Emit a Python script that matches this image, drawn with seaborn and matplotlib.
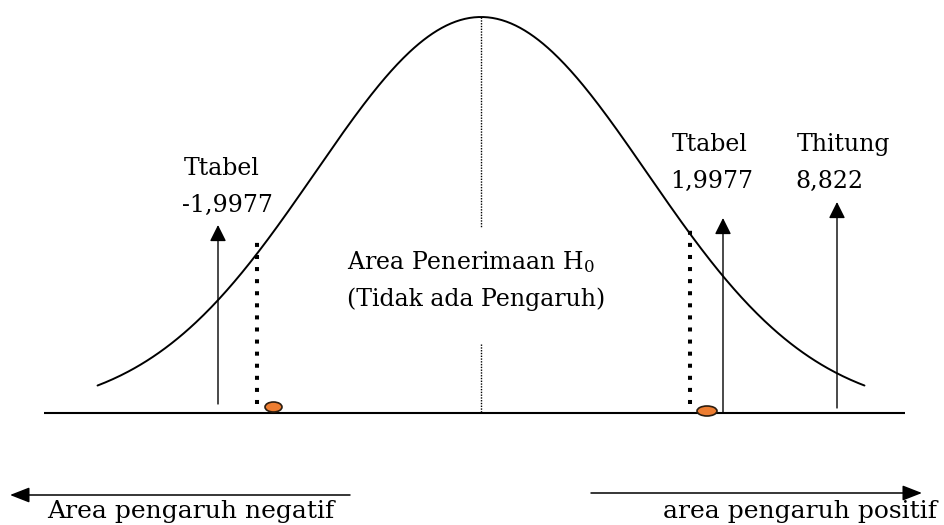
import numpy as np
import matplotlib
matplotlib.use("Agg")
import matplotlib.pyplot as plt
from matplotlib.patches import Ellipse
import seaborn as sns

# ---- data ----
t_labels = ["Ttabel", "Ttabel", "Thitung"]
t_values = ["-1,9977", "1,9977", "8,822"]
center_lines = [r"Area Penerimaan H$_0$", "(Tidak ada Pengaruh)"]
bottom_labels = ["Area pengaruh negatif", "area pengaruh positif"]

# ---- layout (pixel space of a 944x525 canvas) ----
W, H = 944, 525
base_y = 413
peak_y = 17
center_x = 481
sigma_px = 166
curve_half = 2.31  # in sigma units

sns.set_theme(style="white")
plt.rcParams["font.family"] = ["DejaVu Serif"]
plt.rcParams["mathtext.fontset"] = "dejavuserif"

fig = plt.figure(figsize=(W / 100, H / 100), dpi=100)
ax = fig.add_axes([0, 0, 1, 1])
ax.set_xlim(0, W)
ax.set_ylim(H, 0)
ax.axis("off")

# bell curve
z = np.linspace(-curve_half, curve_half, 500)
cx = center_x + sigma_px * z
cy = base_y - (base_y - peak_y) * np.exp(-z ** 2 / 2)
sns.lineplot(x=cx, y=cy, sort=False, color="black", lw=1.4, ax=ax)

# baseline
ax.plot([44, 905], [base_y, base_y], color="black", lw=1.5, solid_capstyle="butt")

# centre fine dotted line
for y0, y1 in [(peak_y, 228), (344, base_y)]:
    ax.plot([center_x, center_x], [y0, y1], color="black", lw=1.0,
            linestyle=(0, (1, 1)))

# thick dotted critical lines
crit = [(257, 238, 404), (690, 223, 404)]
for x, y0, y1 in crit:
    ax.plot([x, x], [y1, y0], color="black", lw=2.9,
            linestyle=(0, (1, 2)), dash_capstyle="butt")

# orange ellipses
for (ex, ey, ew, eh) in [(273.5, 407, 17, 10), (707, 411, 20, 10)]:
    ax.add_patch(Ellipse((ex, ey), ew, eh, facecolor="#ED7D31",
                         edgecolor="#2b1d10", lw=1.2, zorder=5))

# vertical arrows
arrow_style = "-|>,head_length=1.0,head_width=0.5"
for x, y_tail, y_tip in [(218, 404, 225), (723, 412, 218), (837, 408, 202)]:
    ax.annotate("", xy=(x, y_tip), xytext=(x, y_tail),
                arrowprops=dict(arrowstyle=arrow_style, mutation_scale=10,
                                color="black", lw=1.0, shrinkA=0, shrinkB=0))

# bottom horizontal arrows
h_style = "-|>,head_length=1.2,head_width=0.47"
for x_tail, x_tip, y in [(350, 10, 495), (591, 922, 493)]:
    ax.annotate("", xy=(x_tip, y), xytext=(x_tail, y),
                arrowprops=dict(arrowstyle=h_style, mutation_scale=10,
                                color="black", lw=1.1, shrinkA=0, shrinkB=0))

# labels
fs = 17
label_pos = [(184, 175, 182, 212), (672, 151, 670, 188), (797, 151, 795, 188)]
for (lx, ly, vx, vy), lab, val in zip(label_pos, t_labels, t_values):
    ax.text(lx, ly, lab, fontsize=fs, ha="left", va="baseline", color="black")
    ax.text(vx, vy, val, fontsize=fs, ha="left", va="baseline", color="black")

for (tx, ty), s in zip([(347, 269), (347, 306)], center_lines):
    ax.text(tx, ty, s, fontsize=fs, ha="left", va="baseline", color="black")

for (tx, ty), s in zip([(47, 518), (663, 518)], bottom_labels):
    ax.text(tx, ty, s, fontsize=18, ha="left", va="baseline", color="black")

fig.savefig("out.png", dpi=100, facecolor="white")
